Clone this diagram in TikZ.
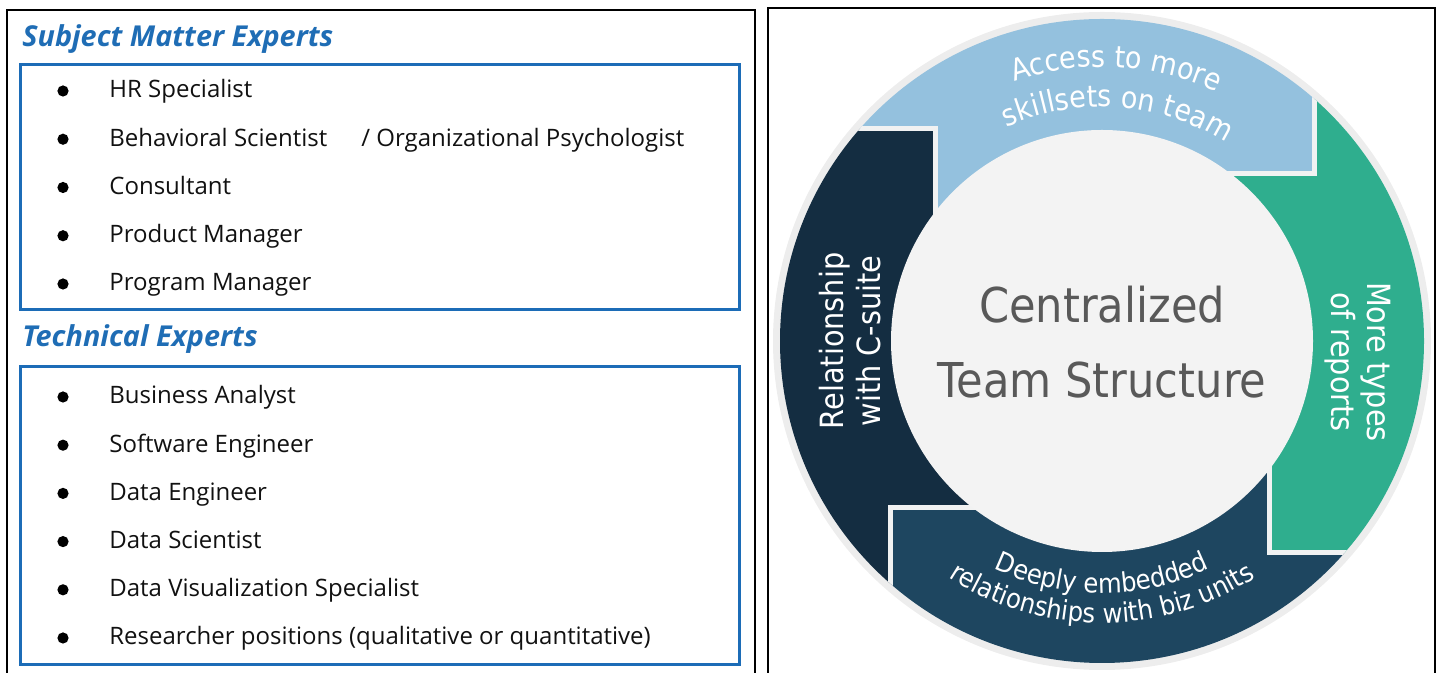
\documentclass[tikz,border=0pt]{standalone}
\usepackage{fontspec}
\usetikzlibrary{decorations.text}
\setmainfont{Open Sans}
\newfontfamily\ringfont{DejaVu Sans}[FakeStretch=0.9]

\definecolor{headblue}{HTML}{1F6DB5}
\definecolor{boxblue}{HTML}{1C6CB7}
\definecolor{itemblack}{HTML}{111111}
\definecolor{ringblue}{HTML}{94C1DE}
\definecolor{ringgreen}{HTML}{2FAE8E}
\definecolor{ringnavy}{HTML}{1E4660}
\definecolor{ringdark}{HTML}{142D41}
\definecolor{diskgray}{HTML}{F3F3F3}
\definecolor{halogray}{HTML}{EDEDED}
\definecolor{sepgray}{HTML}{F1F2F2}
\definecolor{centergray}{HTML}{595959}

\newcommand\toplabelfont{\ringfont\fontsize{15}{18}\selectfont}
\newcommand\bottomlabelfont{\ringfont\fontsize{13.5}{16}\selectfont}

\begin{document}
\begin{tikzpicture}[x=0.5pt,y=0.5pt,
  frame/.style={draw=black, line width=1.4pt},
  groupbox/.style={draw=boxblue, line width=1.5pt},
  heading/.style={anchor=base west, inner sep=0pt, text=headblue,
    font=\fontsize{14.4}{16}\selectfont\bfseries\itshape},
  item/.style={anchor=base west, inner sep=0pt, text=itemblack,
    font=\fontsize{12}{14}\selectfont},
  dot/.style={circle, fill=black, inner sep=0pt, minimum size=5.6pt},
  centertext/.style={anchor=base, inner sep=0pt, text=centergray,
    font=\ringfont\fontsize{24}{28}\selectfont},
  ringlabel/.style={anchor=base, inner sep=0pt, text=white,
    font=\ringfont\fontsize{16}{18.5}\selectfont},
  arclabel/.style={decorate, decoration={text along path, text align=center,
    text color=white, text={#1}}},
  seg/.style={draw=sepgray, line width=2.5pt, line join=miter}]

\useasboundingbox (0,0) rectangle (1440,673);

% ---------- left panel: role lists ----------
\draw[frame] (7,-5) -- (7,663) -- (755,663) -- (755,-5);

\node[heading] (smeTitle) at (22,626) {Subject Matter Experts};
\draw[groupbox] (20,363) rectangle (739,608);
\foreach \t [count=\i] in {HR Specialist,
    {Behavioral Scientist\hspace{17pt}/ Organizational Psychologist},
    Consultant, Product Manager, Program Manager}{
  \node[dot] (smeDot\i) at (63,{575-(\i-1)*48.25+7}) {};
  \node[item] (sme\i) at (109,{575-(\i-1)*48.25}) {\t};
}

\node[heading] (techTitle) at (22,326) {Technical Experts};
\draw[groupbox] (20,8) rectangle (739,306);
\foreach \t [count=\i] in {Business Analyst, Software Engineer, Data Engineer,
    Data Scientist, Data Visualization Specialist,
    Researcher positions (qualitative or quantitative)}{
  \node[dot] (techDot\i) at (63,{269-(\i-1)*48.2+7}) {};
  \node[item] (tech\i) at (109,{269-(\i-1)*48.2}) {\t};
}

% ---------- right panel: cycle ring ----------
\draw[frame] (768,-5) -- (768,665) -- (1435,665) -- (1435,-5);

\begin{scope}[shift={(1102,332)}]
  \def\hA{212}\def\hB{167}\def\hM{400}
  \fill[halogray] (0,0) circle (329);
  \begin{scope}
    \clip (0,0) circle (322);
    \fill[ringblue] (-\hM,\hM) -- (-\hM,\hA) -- (-\hB,\hA) -- (-\hB,0) -- (0,0)
      -- (0,\hB) -- (\hA,\hB) -- (\hA,\hM) -- cycle;
    \fill[ringgreen] (\hM,\hM) -- (\hA,\hM) -- (\hA,\hB) -- (0,\hB) -- (0,0)
      -- (\hB,0) -- (\hB,-\hA) -- (\hM,-\hA) -- cycle;
    \fill[ringnavy] (\hM,-\hM) -- (\hM,-\hA) -- (\hB,-\hA) -- (\hB,0) -- (0,0)
      -- (0,-\hB) -- (-\hA,-\hB) -- (-\hA,-\hM) -- cycle;
    \fill[ringdark] (-\hM,-\hM) -- (-\hA,-\hM) -- (-\hA,-\hB) -- (0,-\hB) -- (0,0)
      -- (-\hB,0) -- (-\hB,\hA) -- (-\hM,\hA) -- cycle;
    % light gaps between the arrow segments
    \draw[seg] (-\hB,0) -- (-\hB,\hA) -- (-\hM,\hA);
    \draw[seg] (0,\hB) -- (\hA,\hB) -- (\hA,\hM);
    \draw[seg] (\hB,0) -- (\hB,-\hA) -- (\hM,-\hA);
    \draw[seg] (0,-\hB) -- (-\hA,-\hB) -- (-\hA,-\hM);
  \end{scope}
  \fill[diskgray] (0,0) circle (211);

  \node[centertext] (hub1) at (0,18) {Centralized};
  \node[centertext] (hub2) at (0,-57) {Team Structure};

  \path[arclabel={|\toplabelfont|Access to more}]
    (147:274) arc[start angle=147, end angle=27, radius=274];
  \path[arclabel={|\toplabelfont|skillsets on team}]
    (146:234) arc[start angle=146, end angle=26, radius=234];

  \node[ringlabel, rotate=-90] (reports1) at (265,-21) {More types};
  \node[ringlabel, rotate=-90] (reports2) at (229,-21) {of reports};

  \path[arclabel={|\bottomlabelfont|Deeply embedded}]
    (210:252) arc[start angle=210, end angle=330, radius=252];
  \path[arclabel={|\bottomlabelfont|relationships with biz units}]
    (210:282) arc[start angle=210, end angle=330, radius=282];

  \node[ringlabel, rotate=90] (csuite1) at (-259,0) {Relationship};
  \node[ringlabel, rotate=90] (csuite2) at (-222,0) {with C-suite};
\end{scope}

\end{tikzpicture}
\end{document}
